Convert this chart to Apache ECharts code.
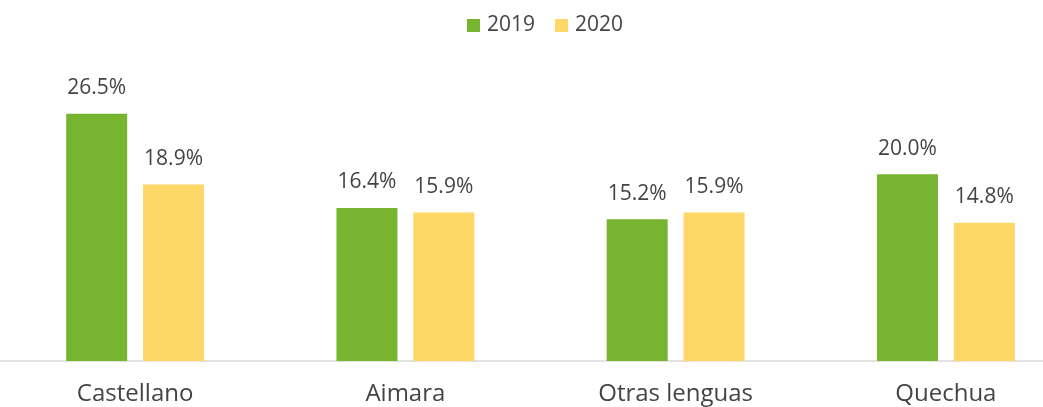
<!DOCTYPE html>
<html>
<head>
<meta charset="utf-8">
<style>
  html, body { margin: 0; padding: 0; background: #ffffff; }
  #chart { width: 1043px; height: 407px; }
</style>
<script src="https://cdn.jsdelivr.net/npm/echarts@6/dist/echarts.min.js"></script>
</head>
<body>
<div id="chart"></div>
<script>
// Share by language group, 2019 vs 2020 (%)
const categories = ['Castellano', 'Aimara', 'Otras lenguas', 'Quechua'];
const seriesNames = ['2019', '2020'];
const values2019 = [26.5, 16.4, 15.2, 20.0];
const values2020 = [18.9, 15.9, 15.9, 14.8];

const textColor = '#444444';
const fontFamily = '"Open Sans", "Liberation Sans", sans-serif';

const labelStyle = {
  show: true,
  position: 'top',
  distance: 15,
  color: textColor,
  fontFamily: fontFamily,
  fontSize: 21,
  formatter: p => p.value.toFixed(1) + '%'
};

const chart = echarts.init(document.getElementById('chart'), null, { renderer: 'canvas' });
chart.setOption({
  animation: false,
  backgroundColor: '#ffffff',
  legend: {
    data: seriesNames,
    top: 10,
    left: 462,
    itemWidth: 13,
    itemHeight: 13,
    itemGap: 20,
    icon: 'rect',
    textStyle: { color: textColor, fontFamily: fontFamily, fontSize: 21, padding: [0, 0, 0, 2] }
  },
  // the plot runs a little past the right edge of the canvas
  grid: { left: 0, width: 1081, top: 81, bottom: 46, containLabel: false, outerBoundsMode: 'none' },
  xAxis: {
    type: 'category',
    data: categories,
    axisTick: { show: false },
    axisLine: { lineStyle: { color: '#d9d9d9', width: 1.5 } },
    axisLabel: {
      color: textColor,
      fontFamily: fontFamily,
      fontSize: 24,
      margin: 21
    }
  },
  yAxis: {
    type: 'value',
    min: 0,
    max: 30,
    show: false,
    splitLine: { show: false }
  },
  series: [
    {
      name: seriesNames[0],
      type: 'bar',
      data: values2019,
      barWidth: 61,
      barGap: '26%',
      itemStyle: { color: '#77b530' },
      label: labelStyle
    },
    {
      name: seriesNames[1],
      type: 'bar',
      data: values2020,
      barWidth: 61,
      itemStyle: { color: '#fed866' },
      label: labelStyle
    }
  ]
});
</script>
</body>
</html>
